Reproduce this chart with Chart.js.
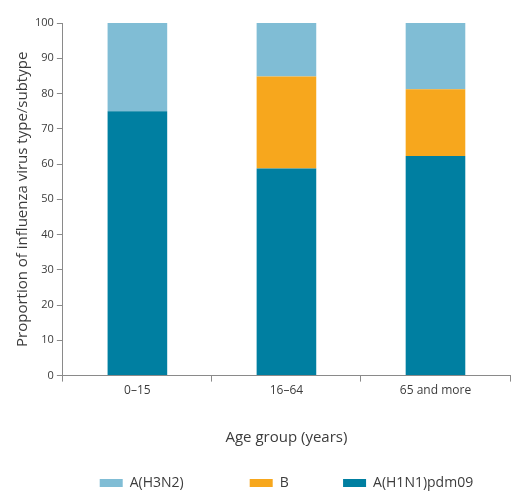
<!DOCTYPE html>
<html>
<head>
  <meta charset="utf-8">
  <title>Influenza virus type/subtype by age group</title>
  <script src="https://cdn.jsdelivr.net/npm/chart.js"></script>
  <style>
    body { margin: 0; background: #fff; }
    #wrap { width: 526px; height: 500px; }
  </style>
</head>
<body>
  <div id="wrap"><canvas id="chart" width="526" height="500"></canvas></div>
  <script>
    const ageGroups = ['0\u201315', '16\u201364', '65 and more'];
    const h1n1 = [75, 58.7, 62.3];
    const typeB = [0, 26.1, 18.9];
    const h3n2 = [25, 15.2, 18.8];

    const textColor = '#3c3c3c';
    const axisColor = '#8a8a8a';

    // extra space after each legend text, keyed by dataset index
    const legendGap = ['', '\u2003\u2003\u2003\u2009', '\u2003\u2003\u2003\u2003'];

    Chart.defaults.font.family = '"Open Sans", sans-serif';
    Chart.defaults.color = textColor;

    new Chart(document.getElementById('chart'), {
      type: 'bar',
      data: {
        labels: ageGroups,
        datasets: [
          { label: 'A(H1N1)pdm09', data: h1n1, backgroundColor: '#007fa1' },
          { label: 'B', data: typeB, backgroundColor: '#f7a71d' },
          { label: 'A(H3N2)', data: h3n2, backgroundColor: '#80bdd5' }
        ]
      },
      options: {
        responsive: false,
        animation: false,
        layout: { padding: { top: 23, right: 16, left: 14, bottom: 0 } },
        datasets: { bar: { categoryPercentage: 1, barPercentage: 0.4 } },
        plugins: {
          tooltip: { enabled: false },
          legend: {
            position: 'bottom',
            fullSize: false,
            reverse: true,
            labels: {
              boxWidth: 23,
              boxHeight: 8,
              padding: 10,
              font: { size: 14 },
              color: textColor,
              generateLabels(chart) {
                const items = Chart.defaults.plugins.legend.labels.generateLabels(chart);
                items.forEach(it => { it.text += legendGap[it.datasetIndex]; });
                return items;
              }
            }
          }
        },
        scales: {
          x: {
            stacked: true,
            grid: { drawOnChartArea: false, color: axisColor, tickLength: 6 },
            border: { color: axisColor },
            ticks: { font: { size: 12 }, padding: 2 },
            title: { display: true, text: 'Age group (years)', font: { size: 15 }, padding: { top: 29, bottom: 19 } }
          },
          y: {
            stacked: true,
            min: 0,
            max: 100,
            ticks: { stepSize: 10, font: { size: 11 }, padding: 3 },
            grid: { drawOnChartArea: false, color: axisColor, tickLength: 6 },
            border: { color: axisColor },
            title: { display: true, text: 'Proportion of influenza virus type/subtype', font: { size: 15 }, padding: { top: 0, bottom: 0 } }
          }
        }
      }
    });
  </script>
</body>
</html>
